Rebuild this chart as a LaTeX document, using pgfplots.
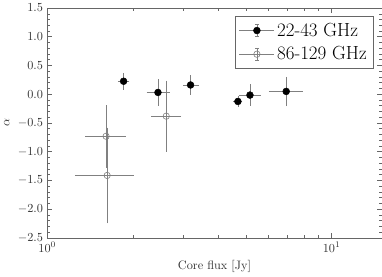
\documentclass[border=0pt]{standalone}
\usepackage{pgfplots}
\pgfplotsset{compat=1.18}
\definecolor{axgray}{gray}{0.4}
\definecolor{errgray}{gray}{0.5}
\begin{document}
\begin{tikzpicture}
\begin{axis}[
  scale only axis,
  width=273pt, height=187.5pt,
  xmode=log, log basis x=10,
  xmin=1, xmax=15,
  xtick={1,10},
  minor xtick={2,3,4,5,6,7,8,9},
  ymin=-2.5, ymax=1.5,
  ytick={-2.5,-2,...,1.5},
  minor y tick num=4,
  yticklabel style={/pgf/number format/fixed,/pgf/number format/precision=1,/pgf/number format/fixed zerofill},
  tick align=inside,
  ticks=both,
  axis line style={axgray},
  every tick/.style={axgray},
  major tick length=4pt,
  minor tick length=2.5pt,
  tick label style={text=black!80},
  label style={text=black!80},
  xlabel={Core flux [Jy]},
  ylabel={$\alpha$},
  legend style={at={(1,1)}, anchor=north east, xshift=-6.5pt, yshift=-6.5pt,
    draw=axgray, font=\fontsize{15.5}{18}\selectfont, inner sep=3.5pt, row sep=3pt},
  legend cell align=left,
  legend image code/.code={
    \draw[errgray, line width=0.5pt] (0cm,0cm) -- (1cm,0cm);
    \draw[errgray, line width=0.5pt] (0.5cm,-5pt) -- (0.5cm,5pt);
    \draw[errgray, line width=0.5pt] (0.45cm,-5pt) -- (0.55cm,-5pt) (0.45cm,5pt) -- (0.55cm,5pt);
    \draw[mark repeat=2,mark phase=2,#1] plot coordinates {(0cm,0cm)(0.5cm,0cm)(1cm,0cm)};
  },
]
\addplot+[only marks, mark=*, mark size=2.8pt, mark options={draw=black, fill=black},
  error bars/.cd, x dir=both, y dir=both, x explicit, y explicit,
  error bar style={errgray, line width=0.5pt},
  error mark options={errgray, mark size=1.6pt, line width=0.5pt}]
coordinates {
  (1.855,0.225) += (0.06,0.11) -= (0.055,0.11)
  (2.45,0.03) += (0.20,0.195) -= (0.18,0.195)
  (3.19,0.16) += (0.17,0.135) -= (0.14,0.135)
  (4.68,-0.127) += (0.10,0.065) -= (0.10,0.065)
  (5.16,-0.016) += (0.38,0.155) -= (0.35,0.155)
  (6.92,0.048) += (0.87,0.22) -= (0.81,0.22)
};
\addlegendentry{22-43 GHz}
\addplot+[only marks, mark=o, mark size=2.6pt, mark options={draw=errgray, fill=none, line width=0.5pt},
  error bars/.cd, x dir=both, y dir=both, x explicit, y explicit,
  error bar style={errgray, line width=0.5pt},
  error mark options={errgray, mark size=1.6pt, line width=0.5pt}]
coordinates {
  (1.61,-0.733) += (0.245,0.51) -= (0.23,0.51)
  (1.624,-1.415) += (0.356,0.8) -= (0.354,0.8)
  (2.62,-0.383) += (0.29,0.585) -= (0.26,0.585)
};
\addlegendentry{86-129 GHz}
\end{axis}
\end{tikzpicture}
\end{document}
